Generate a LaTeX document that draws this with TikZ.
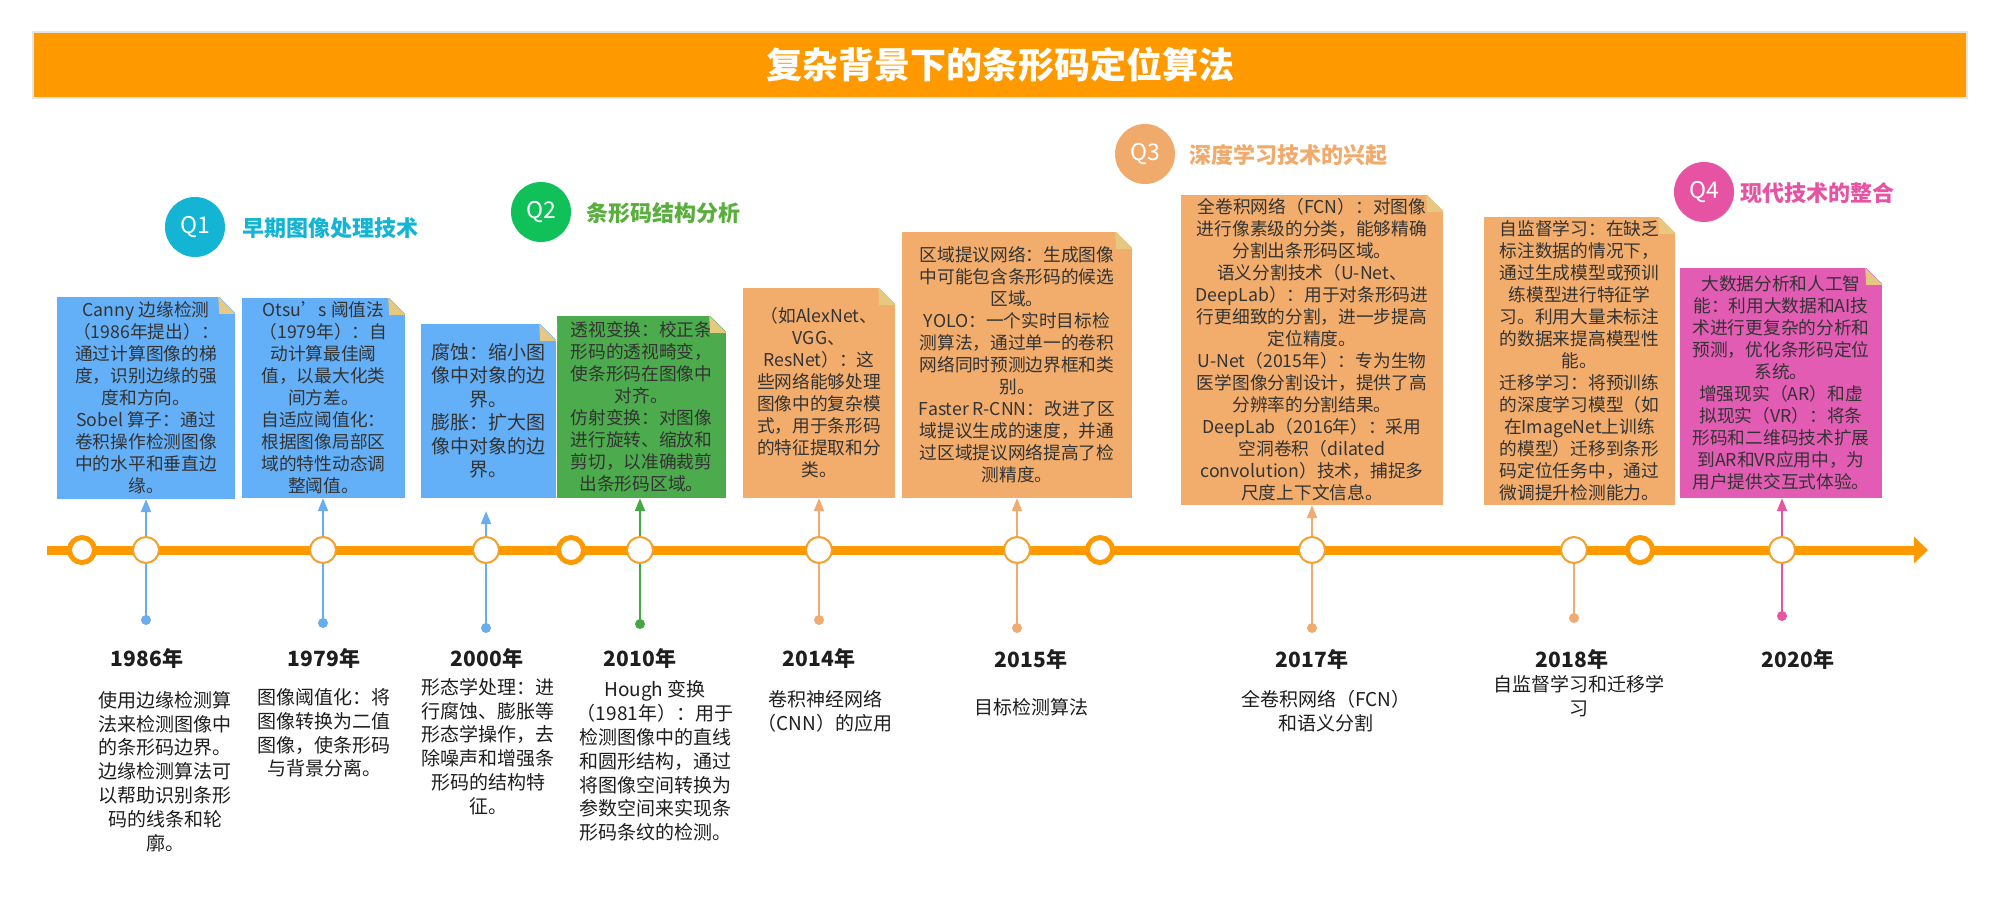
\documentclass[tikz,border=0pt]{standalone}
\usepackage{fontspec}
\setmainfont{Noto Sans CJK SC}
\usetikzlibrary{arrows.meta,calc}
\definecolor{orangeM}{HTML}{FF9900}
\definecolor{ringB}{HTML}{F3A02C}
\definecolor{blueB}{HTML}{64B0F8}
\definecolor{blueL}{HTML}{68AEEE}
\definecolor{greenB}{HTML}{4CAB4C}
\definecolor{greenL}{HTML}{45A845}
\definecolor{sandB}{HTML}{F2AD6C}
\definecolor{sandL}{HTML}{F0AC70}
\definecolor{pinkB}{HTML}{E35CB4}
\definecolor{pinkL}{HTML}{E8559F}
\definecolor{foldC}{HTML}{E6C981}
\definecolor{qone}{HTML}{14B4D4}
\definecolor{qtwo}{HTML}{10C15A}
\definecolor{qtwotext}{HTML}{5AAE3E}
\definecolor{qthree}{HTML}{F0AA6B}
\definecolor{qfour}{HTML}{E653A2}
\definecolor{txt}{HTML}{333333}
\definecolor{dtxt}{HTML}{1E1E1E}
\newcommand{\foldcorner}[1]{%
  \fill[white] ($(#1.north east)+(-17,-1)$) -- ($(#1.north east)+(1,-1)$) -- ($(#1.north east)+(1,17)$) -- cycle;
  \fill[foldC] ($(#1.north east)+(-17,0)$) -- ($(#1.north east)+(0,17)$) -- ($(#1.north east)+(-16,17)$) -- cycle;}
\tikzset{
  card/.style={fill=#1, inner sep=0pt, align=center, text=txt, font=\fontsize{17.7}{22}\selectfont},
  ring/.style={circle, draw=orangeM, line width=5pt, fill=white, minimum size=25pt, inner sep=0pt},
  tpoint/.style={circle, draw=ringB, line width=2pt, fill=white, minimum size=26pt, inner sep=0pt},
  tdot/.style={circle, fill=#1, minimum size=10pt, inner sep=0pt},
  upconn/.style={draw=#1, line width=2pt, -{Triangle[length=13pt,width=10pt]}},
  downconn/.style={draw=#1, line width=2pt},
  yearlbl/.style={inner sep=0pt, text=dtxt, font=\bfseries\fontsize{21}{24}\selectfont},
  desc/.style={inner sep=0pt, align=center, text=dtxt, font=\fontsize{19}{23.8}\selectfont},
  qcirc/.style={circle, fill=#1, minimum size=60pt, inner sep=0pt, text=white, font=\fontsize{23}{23}\selectfont},
  qlabel/.style={anchor=west, inner sep=0pt, text=#1, font=\bfseries\fontsize{22}{22}\selectfont},
}
\begin{document}
\begin{tikzpicture}[x=1pt,y=-1pt]
\useasboundingbox (0,0) rectangle (2000,902);
\fill[white] (0,0) rectangle (2000,902);
% title
\node[fill=orangeM, draw=black!10, line width=2pt, minimum width=1934pt, minimum height=66pt, inner sep=0pt,
      text=white, font=\bfseries\fontsize{36}{36}\selectfont] (title) at (1000,65) {复杂背景下的条形码定位算法};
% Q headers
\node[qcirc=qone] (q1) at (195,227) {Q1};
\node[qlabel=qone] (ql1) at (242,228) {早期图像处理技术};
\node[qcirc=qtwo] (q2) at (541,212) {Q2};
\node[qlabel=qtwotext] (ql2) at (586,213) {条形码结构分析};
\node[qcirc=qthree] (q3) at (1145,154) {Q3};
\node[qlabel=qthree] (ql3) at (1189,155) {深度学习技术的兴起};
\node[qcirc=qfour] (q4) at (1704,192) {Q4};
\node[qlabel=qfour] (ql4) at (1740,193) {现代技术的整合};
% cards
\node[card=blueB, minimum width=178pt, minimum height=202pt] (b1) at (146,398)
 {Canny 边缘检测\\（1986年提出）：\\通过计算图像的梯\\度，识别边缘的强\\度和方向。\\Sobel 算子：通过\\卷积操作检测图像\\中的水平和垂直边\\缘。};
\node[card=blueB, minimum width=163pt, minimum height=200pt] (b2) at (323.5,398)
 {Otsu’s 阈值法\\（1979年）：自\\动计算最佳阈\\值，以最大化类\\间方差。\\自适应阈值化：\\根据图像局部区\\域的特性动态调\\整阈值。};
\node[card=blueB, minimum width=135pt, minimum height=174pt, font=\fontsize{19}{23.5}\selectfont] (b3) at (488.5,411)
 {腐蚀：缩小图\\像中对象的边\\界。\\膨胀：扩大图\\像中对象的边\\界。};
\node[card=greenB, minimum width=169pt, minimum height=182pt] (b4) at (641.5,407)
 {透视变换：校正条\\形码的透视畸变，\\使条形码在图像中\\对齐。\\仿射变换：对图像\\进行旋转、缩放和\\剪切，以准确裁剪\\出条形码区域。};
\node[card=sandB, minimum width=152pt, minimum height=210pt] (b5) at (819,393)
 {（如AlexNet、\\VGG、\\ResNet）：这\\些网络能够处理\\图像中的复杂模\\式，用于条形码\\的特征提取和分\\类。};
\node[card=sandB, minimum width=230pt, minimum height=266pt] (b6) at (1017,365)
 {区域提议网络：生成图像\\中可能包含条形码的候选\\区域。\\YOLO：一个实时目标检\\测算法，通过单一的卷积\\网络同时预测边界框和类\\别。\\Faster R-CNN：改进了区\\域提议生成的速度，并通\\过区域提议网络提高了检\\测精度。};
\node[card=sandB, minimum width=262pt, minimum height=310pt] (b7) at (1312,350)
 {全卷积网络（FCN）：对图像\\进行像素级的分类，能够精确\\分割出条形码区域。\\语义分割技术（U-Net、\\DeepLab）：用于对条形码进\\行更细致的分割，进一步提高\\定位精度。\\U-Net（2015年）：专为生物\\医学图像分割设计，提供了高\\分辨率的分割结果。\\DeepLab（2016年）：采用\\空洞卷积（dilated\\convolution）技术，捕捉多\\尺度上下文信息。};
\node[card=sandB, minimum width=191pt, minimum height=288pt] (b8) at (1579.5,361)
 {自监督学习：在缺乏\\标注数据的情况下，\\通过生成模型或预训\\练模型进行特征学\\习。利用大量未标注\\的数据来提高模型性\\能。\\迁移学习：将预训练\\的深度学习模型（如\\在ImageNet上训练\\的模型）迁移到条形\\码定位任务中，通过\\微调提升检测能力。};
\node[card=pinkB, minimum width=202pt, minimum height=230pt] (b9) at (1781,383)
 {大数据分析和人工智\\能：利用大数据和AI技\\术进行更复杂的分析和\\预测，优化条形码定位\\系统。\\增强现实（AR）和虚\\拟现实（VR）：将条\\形码和二维码技术扩展\\到AR和VR应用中，为\\用户提供交互式体验。};
\foreach \b in {b1,b2,b3,b4,b5,b6,b7,b8,b9} {\foldcorner{\b}}
% timeline
\coordinate (tl0) at (47,550);
\coordinate (tl1) at (1928,550);
\draw[orangeM, line width=9pt, -{Triangle[length=14pt,width=26pt]}] (tl0) -- (tl1);
\node[ring] (r1) at (82,550) {};
\node[ring] (r2) at (571,550) {};
\node[ring] (r3) at (1100,550) {};
\node[ring] (r4) at (1640,550) {};
\node[tpoint] (c1) at (146,550) {};
\node[tpoint] (c2) at (323,550) {};
\node[tpoint] (c3) at (486,550) {};
\node[tpoint] (c4) at (640,550) {};
\node[tpoint] (c5) at (819,550) {};
\node[tpoint] (c6) at (1017,550) {};
\node[tpoint] (c7) at (1312,550) {};
\node[tpoint] (c8) at (1574,550) {};
\node[tpoint] (c9) at (1782,550) {};
% dots
\node[tdot=blueL] (d1) at (146,620) {};
\node[tdot=blueL] (d2) at (323,623) {};
\node[tdot=blueL] (d3) at (486,628) {};
\node[tdot=greenL] (d4) at (640,624) {};
\node[tdot=sandL] (d5) at (819,620) {};
\node[tdot=sandL] (d6) at (1017,628) {};
\node[tdot=sandL] (d7) at (1312,628) {};
\node[tdot=sandL] (d8) at (1574,618) {};
\node[tdot=pinkL] (d9) at (1782,616) {};
% connectors up
\draw[upconn=blueL] (c1.north) -- (c1.north |- b1.south);
\draw[upconn=blueL] (c2.north) -- (c2.north |- b2.south);
\draw[upconn=blueL, shorten >=13pt] (c3.north) -- (c3.north |- b3.south);
\draw[upconn=greenL] (c4.north) -- (c4.north |- b4.south);
\draw[upconn=sandL] (c5.north) -- (c5.north |- b5.south);
\draw[upconn=sandL] (c6.north) -- (c6.north |- b6.south);
\draw[upconn=sandL] (c7.north) -- (c7.north |- b7.south);
\draw[upconn=pinkL] (c9.north) -- (c9.north |- b9.south);
% connectors down
\draw[downconn=blueL] (c1.south) -- (d1.center);
\draw[downconn=blueL] (c2.south) -- (d2.center);
\draw[downconn=blueL] (c3.south) -- (d3.center);
\draw[downconn=greenL] (c4.south) -- (d4.center);
\draw[downconn=sandL] (c5.south) -- (d5.center);
\draw[downconn=sandL] (c6.south) -- (d6.center);
\draw[downconn=sandL] (c7.south) -- (d7.center);
\draw[downconn=sandL] (c8.south) -- (d8.center);
\draw[downconn=pinkL] (c9.south) -- (d9.center);
% years
\node[yearlbl] (y1) at (147,658) {1986年};
\node[yearlbl] (y2) at (324,658) {1979年};
\node[yearlbl] (y3) at (487,658) {2000年};
\node[yearlbl] (y4) at (640,658) {2010年};
\node[yearlbl] (y5) at (819,658) {2014年};
\node[yearlbl] (y6) at (1031,659) {2015年};
\node[yearlbl] (y7) at (1312,659) {2017年};
\node[yearlbl] (y8) at (1572,659) {2018年};
\node[yearlbl] (y9) at (1798,659) {2020年};
% descriptions
\node[desc] (t1) at (165,771.5) {使用边缘检测算\\法来检测图像中\\的条形码边界。\\边缘检测算法可\\以帮助识别条形\\码的线条和轮\\廓。};
\node[desc] (t2) at (324,733) {图像阈值化：将\\图像转换为二值\\图像，使条形码\\与背景分离。};
\node[desc] (t3) at (488,746.5) {形态学处理：进\\行腐蚀、膨胀等\\形态学操作，去\\除噪声和增强条\\形码的结构特\\征。};
\node[desc] (t4) at (655,761) {Hough 变换\\（1981年）：用于\\检测图像中的直线\\和圆形结构，通过\\将图像空间转换为\\参数空间来实现条\\形码条纹的检测。};
\node[desc] (t5) at (825,711) {卷积神经网络\\（CNN）的应用};
\node[desc] (t6) at (1031,707) {目标检测算法};
\node[desc] (t7) at (1326,711) {全卷积网络（FCN）\\和语义分割};
\node[desc] (t8) at (1579,696.5) {自监督学习和迁移学\\习};
\end{tikzpicture}
\end{document}
